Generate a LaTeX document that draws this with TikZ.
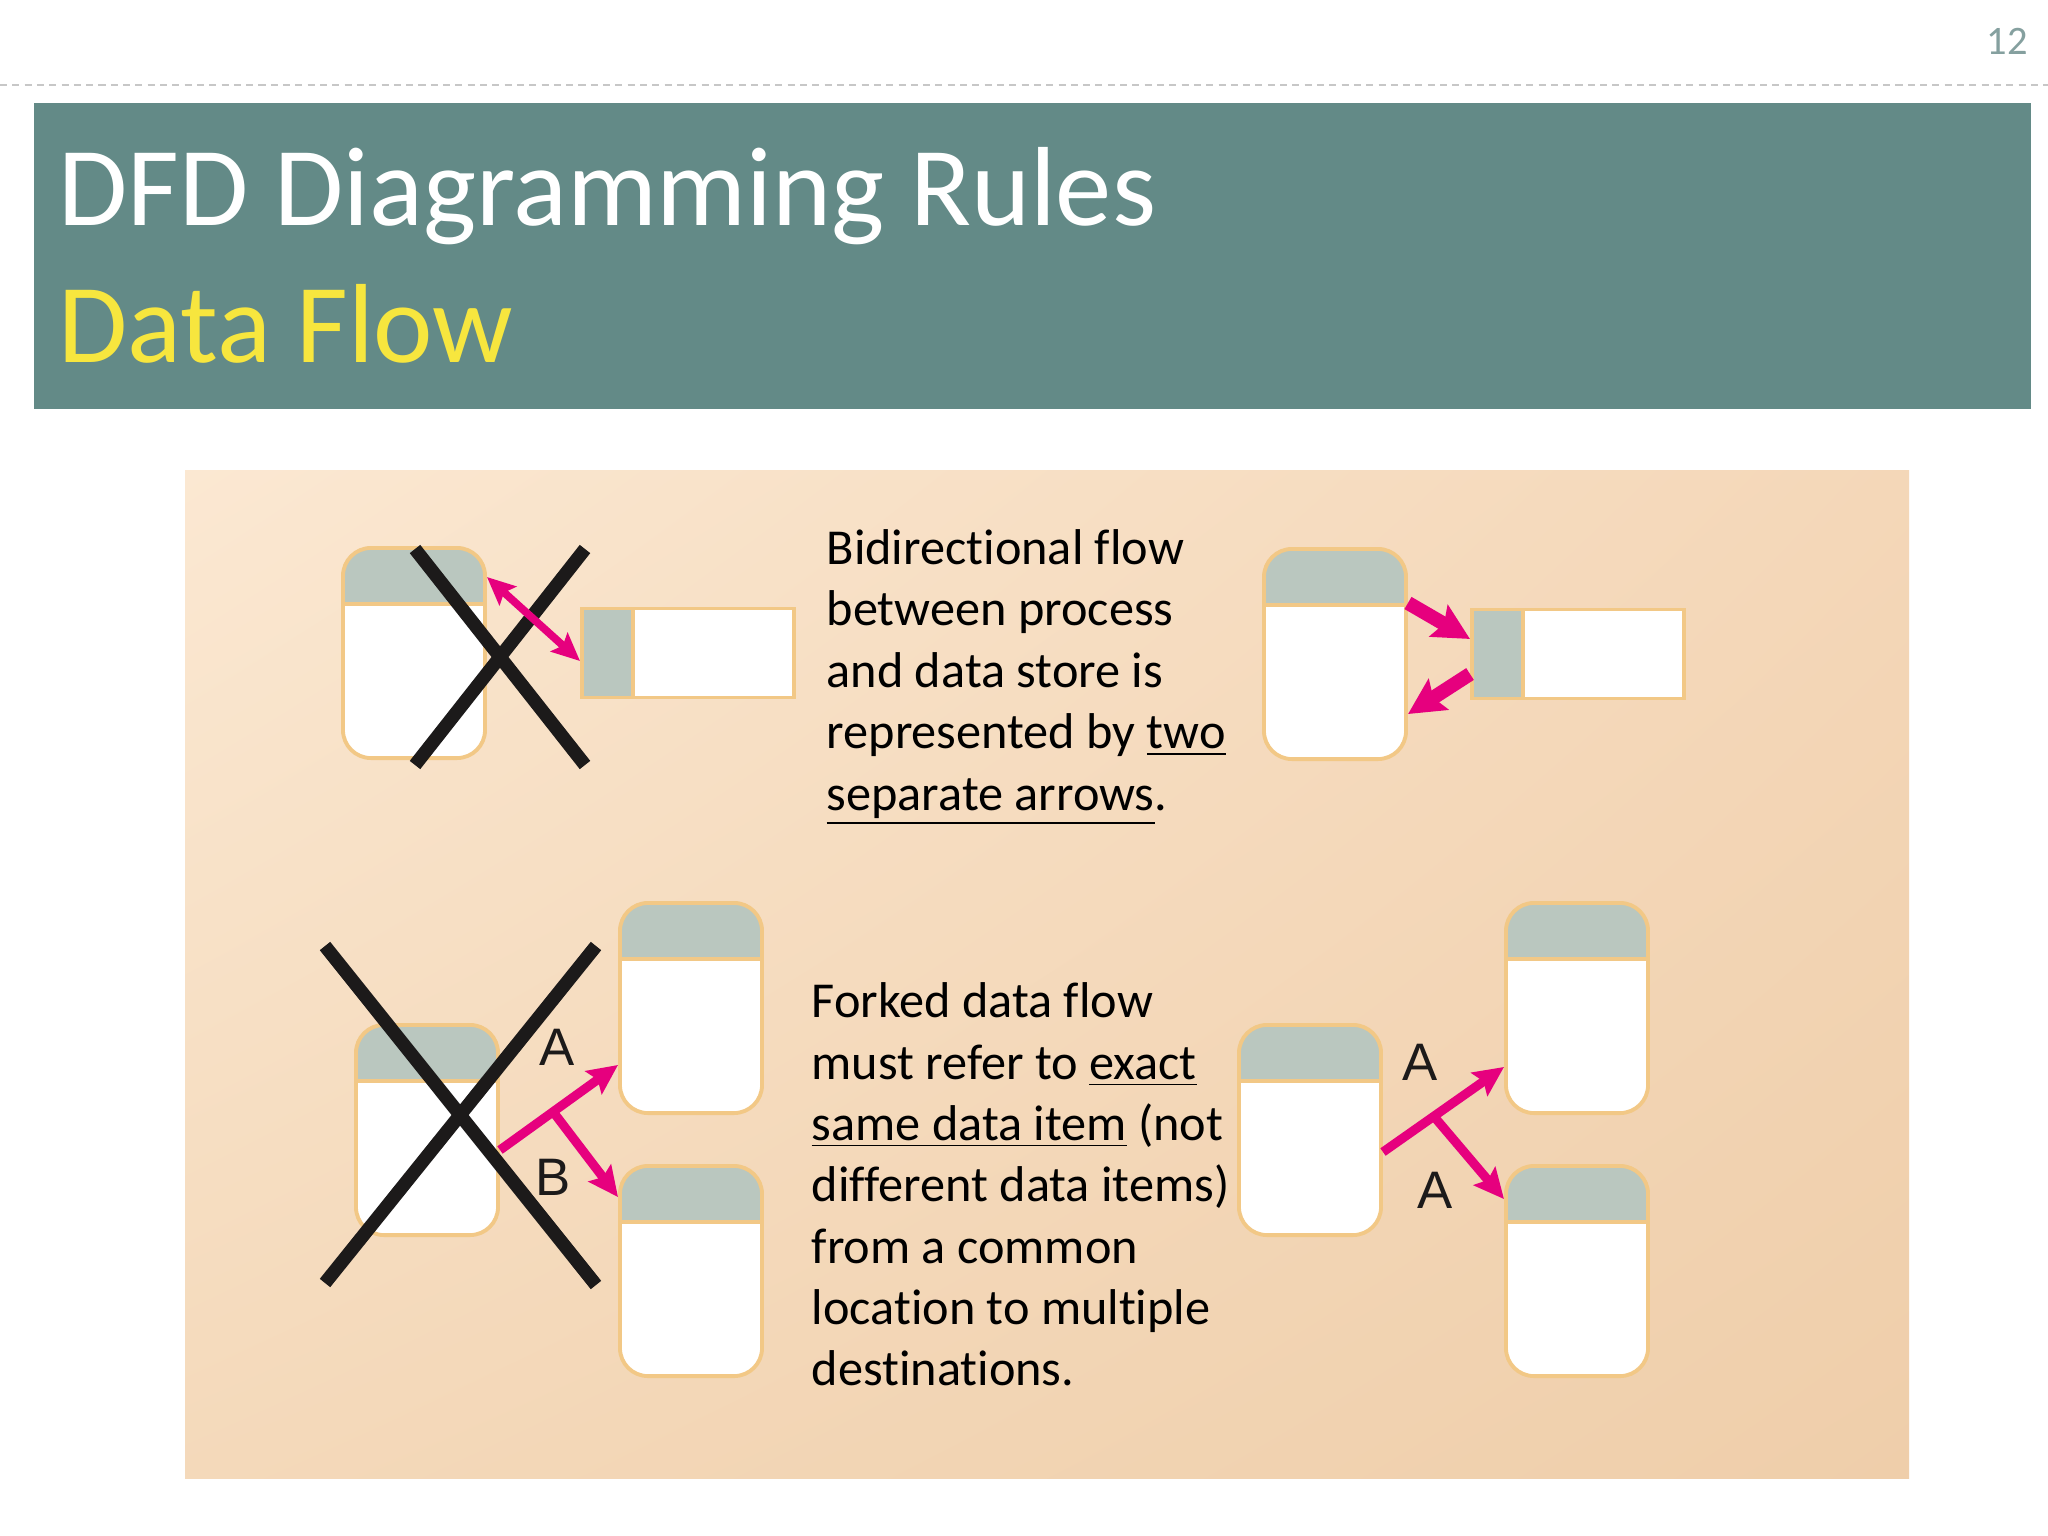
\documentclass[tikz,border=0pt]{standalone}
\usepackage{fontspec}
\setmainfont{Carlito}[Ligatures={NoCommon,NoContextual}]
\newfontfamily\lblfont{Liberation Sans}
\usetikzlibrary{positioning,arrows.meta,shadings}

\definecolor{bandteal}{HTML}{638A87}
\definecolor{titleyel}{HTML}{F7E63E}
\definecolor{pgnum}{HTML}{85A09F}
\definecolor{hdrgray}{HTML}{BAC7BF}
\definecolor{edgeor}{HTML}{F2C886}
\definecolor{flowmag}{HTML}{E6007E}
\definecolor{crossblk}{HTML}{1C1A1A}
\definecolor{panelUL}{HTML}{FBE8D2}
\definecolor{panelUR}{HTML}{F4D7B8}
\definecolor{panelLL}{HTML}{F4D9BA}
\definecolor{panelLR}{HTML}{EFCEAA}

\begin{document}
\begin{tikzpicture}[
    x=0.01cm, y=-0.01cm,
    proc/.style={draw=edgeor, line width=1.1pt, fill=white, rounded corners=0.28cm,
        minimum width=1.42cm, minimum height=2.1cm, inner sep=0pt,
        path picture={
            \fill[hdrgray, sharp corners] (path picture bounding box.north west)
                rectangle ([yshift=-0.56cm]path picture bounding box.north east);
            \draw[edgeor, line width=1pt, sharp corners] ([yshift=-0.56cm]path picture bounding box.north west)
                -- ([yshift=-0.56cm]path picture bounding box.north east);
        }},
    store/.style={draw=edgeor, line width=1.1pt, fill=white, minimum width=2.12cm,
        minimum height=0.89cm, inner sep=0pt,
        path picture={
            \fill[hdrgray] (path picture bounding box.north west)
                rectangle ([xshift=0.51cm]path picture bounding box.south west);
            \draw[edgeor, line width=1pt] ([xshift=0.51cm]path picture bounding box.north west)
                -- ([xshift=0.51cm]path picture bounding box.south west);
        }},
    cross/.style={draw=crossblk, line width=3.8pt},
    flow/.style={->, draw=flowmag, line width=2.6pt, >={Stealth[length=0.3cm, width=0.28cm, inset=0.05cm]}},
    flowthin/.style={flow, line width=2.2pt, >={Stealth[length=0.28cm, width=0.25cm, inset=0.05cm]}},
    flowfat/.style={flow, line width=4pt, >={Stealth[length=0.36cm, width=0.36cm, inset=0.06cm]}},
    lbl/.style={font=\lblfont\fontsize{15}{18}\selectfont, text=crossblk, inner sep=0pt},
    note/.style={font=\fontsize{14.3}{17.45}\selectfont, align=left, inner sep=0pt, anchor=north west},
    sepline/.style={draw=black!22, line width=0.8pt, dash pattern=on 2pt off 1.5pt},
]
\useasboundingbox (0,0) rectangle (2048,1536);
\fill[white] (0,0) rectangle (2048,1536);

% Slide header
\node[font=\fontsize{11.5}{13}\selectfont, text=pgnum] (pgno) at (2007,41) {12};
\draw[sepline] (0,85) -- (2048,85);
\fill[bandteal] (34,103) rectangle (2031,409);
\node[anchor=base west, inner sep=0pt, text=white, font=\fontsize{32}{38}\selectfont] (title) at (58,225) {DFD Diagramming Rules};
\node[anchor=base west, inner sep=0pt, text=titleyel, font=\fontsize{32}{38}\selectfont] (subtitle) at (58,362) {Data Flow};

% Picture panel
\shade[upper left=panelUL, upper right=panelUR, lower left=panelLL, lower right=panelLR] (185,470) rectangle (1909,1478);

% Rule 1: bidirectional flow
\node[proc] (pTL) at (414,653) {};
\node[store, right=0.93cm of pTL] (sTL) {};
\draw[cross] (415,549) -- (585,765);
\draw[cross] (585,549) -- (415,765);
\draw[flowthin, <->] ([yshift=-0.31cm]pTL.north east) -- ([yshift=-0.08cm]sTL.west);

\node[note] (noteA) at (826,529) {Bidirectional flow\\between process\\and data store is\\represented by \underline{two}\\\underline{separate arrows}.};

\node[proc] (pTR) at (1335,654) {};
\node[store, right=0.62cm of pTR] (sTR) {};
\draw[flowfat] ([yshift=0.51cm]pTR.east) -- ([yshift=0.15cm]sTR.west);
\draw[flowfat] ([yshift=-0.2cm]sTR.west) -- ([yshift=-0.6cm]pTR.east);

% Rule 2: forked flow
\node[proc] (pBL) at (427,1130) {};
\node[proc] (pBLa) at (691,1008) {};
\node[proc, below=0.49cm of pBLa] (pBLb) {};
\draw[cross] (325,946) -- (596,1285);
\draw[cross] (596,946) -- (325,1283);
\draw[flow] ([yshift=-0.2cm]pBL.east) -- coordinate[pos=0.45] (forkBL) ([yshift=0.5cm]pBLa.south west);
\draw[flow] (forkBL) -- ([yshift=-0.33cm]pBLb.north west);
\node[lbl] (lblA) at (557,1047) {A};
\node[lbl] (lblB) at (553,1177) {B};

\node[note] (noteB) at (811,982) {Forked data flow\\must refer to \underline{exact}\\\underline{same data item} (not\\different data items)\\from a common\\location to multiple\\destinations.};

\node[proc] (pBR) at (1310,1130) {};
\node[proc] (pBRa) at (1577,1008) {};
\node[proc, below=0.49cm of pBRa] (pBRb) {};
\draw[flow] ([yshift=-0.22cm]pBR.east) -- coordinate[pos=0.42] (forkBR) ([yshift=0.48cm]pBRa.south west);
\draw[flow] (forkBR) -- ([yshift=-0.35cm]pBRb.north west);
\node[lbl] (lblA2) at (1420,1062) {A};
\node[lbl] (lblA3) at (1435,1190) {A};

\end{tikzpicture}
\end{document}
